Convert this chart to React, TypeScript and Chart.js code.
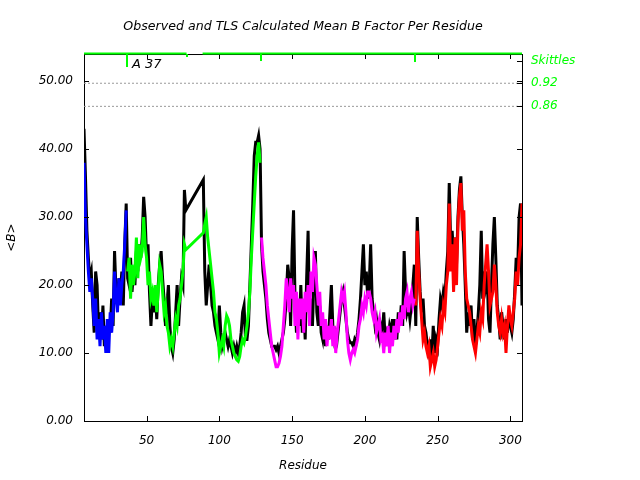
import React, { useEffect, useRef } from 'react';
import { Chart, registerables } from 'chart.js';

Chart.register(...registerables);

const TITLE = 'Observed and TLS Calculated Mean B Factor Per Residue';
const X_TITLE = 'Residue';
const Y_TITLE = '<B>';
const X_MIN = 7;
const X_MAX = 308;
const Y_MIN = 0;
const Y_MAX = 54;
const xTickValues = [50, 100, 150, 200, 250, 300];
const yTickValues = [0, 10, 20, 30, 40, 50];

// Observed mean B per residue (black) — residues 7..77 and 89..308
const observedStartA = 7;
const observedA = [
  43, 36, 28, 24, 21, 22, 17, 13, 22, 20,
  13, 16, 12, 17, 11, 14, 12, 15, 13, 18,
  14, 25, 19, 17, 21, 19, 22, 17, 26, 32,
  21, 20, 24, 19, 22, 20, 25, 22, 26, 24,
  27, 33, 30, 24, 26, 19, 14, 18, 16, 19,
  15, 20, 23, 25, 21, 18, 14, 17, 20, 14,
  11, 10, 12, 16, 20, 14, 18, 21, 20, 34,
  31,
];
const observedStartB = 89;
const observedB = [
  35.5, 22, 17, 20, 23, 20, 17, 16, 14, 13,
  12, 17, 13, 11, 12, 13, 12, 11, 12, 11,
  10, 11, 10, 11, 10, 11, 13, 16, 17, 12,
  12, 14, 20, 26, 32, 39, 41, 41, 42, 40,
  26, 22, 20, 18, 15, 13, 12, 11, 11, 11,
  10.5, 11, 10, 11, 12, 13, 15, 18, 23, 21,
  14, 25, 31, 18, 13, 16, 14, 20, 13, 17,
  12, 21, 28, 15, 18, 14, 21, 25, 16, 14,
  17, 13, 12, 15, 11, 14, 12, 16, 20, 14,
  12, 13, 12, 14, 16, 18, 19, 17, 15, 13,
  12, 11.5, 11.5, 11, 12, 11.5, 13, 15, 18, 22,
  26, 20, 22, 18, 20, 26, 18, 16, 14, 15,
  13, 12, 14, 13, 16, 12, 13, 12, 14, 13,
  15, 12, 15, 12, 16, 14, 17, 14, 25, 19,
  16, 17, 15, 17, 20, 23, 14, 30, 24, 19,
  16, 18, 14, 13, 11, 10, 12, 9, 14, 10,
  12, 11, 15, 18, 17, 19, 18, 22, 25, 35,
  26, 28, 24, 27, 23, 30, 34, 36, 30, 26,
  20, 13, 16, 14, 17, 12, 15, 11, 13, 16,
  20, 28, 18, 22, 20, 22, 15, 13, 20, 26,
  30, 24, 17, 15, 12, 16, 14, 12, 15, 13,
  16, 14, 13, 15, 19, 24, 22, 30, 32, 17,
];

// TLS calculated mean B per residue, one array per TLS group
const blueStart = 7;
const blueValues = [
  38, 30, 26, 22, 19, 21, 18, 14, 18, 12,
  15, 11, 16, 12, 14, 10, 15, 10, 16, 13,
  16, 22, 18, 16, 21, 17, 20, 22, 26, 31,
];
const greenStartA = 37;
const greenValuesA = [
  22, 24, 18, 23, 20, 22, 27, 21, 26, 24,
  25, 30, 26, 24, 20, 22, 18, 19, 17, 20,
  16, 19, 23, 22, 19, 16, 17, 14, 13, 11,
  12, 11, 13, 15, 14, 17, 18, 20, 22, 26,
  25.2,
];
const greenStartB = 89;
const greenValuesB = [
  27.7, 29, 30, 27, 25, 23, 21, 19, 16, 15,
  13, 10, 11, 12, 11, 14, 15.5, 15, 14, 12,
  11, 10, 9.5, 9, 8.8, 9.5, 11, 12, 11.5, 12.5,
  14, 16, 19, 24, 28, 32, 36, 39, 41, 38,
];
const magentaStart = 129;
const magentaValues = [
  27, 24, 22, 20, 17, 15, 13, 11, 10, 9,
  8, 8, 8.5, 9.5, 11, 14, 17, 21, 19, 16,
  21, 18, 20, 14, 19, 12, 18, 15, 18, 13,
  19, 16, 20, 14, 22, 19, 24, 23, 20, 17,
  19, 14, 16, 12, 15, 11, 14, 12, 15, 11,
  14, 10, 13, 15, 17, 19, 18, 19, 16, 12,
  10, 9, 10, 10.5, 10, 11, 12, 14, 15, 17,
  16, 18, 17, 19, 19, 18, 16, 15, 16, 13,
  14, 15, 12, 12.5, 10, 13, 11, 14, 10, 13,
  11, 14, 12, 15, 13, 16, 14, 17, 15, 18,
  19, 16, 18, 19, 17, 18,
];
const redStart = 235;
const redValues = [
  17, 28, 22, 18, 15, 12, 13, 11, 10, 11,
  8, 9, 10, 8, 9, 11, 13, 15, 14, 17,
  16, 20, 22, 32, 22, 26, 19, 27, 20, 29,
  33, 35, 28, 31, 22, 18, 17, 16, 14, 12,
  11, 10, 12, 14, 13, 16, 15, 20, 23, 26,
  22, 17, 18, 19, 23, 20, 16, 14, 13, 15,
  13, 14, 10, 14, 17, 15, 14, 16, 18, 22,
  20, 24, 26, 32,
];

// Skittles reference levels (in B units on the plot) and their labels
const skittlesLabels = ['Skittles', '0.92', '0.86'];
const skittlesLevels = [53, 49.7, 46.3];
// TLS group boundaries (between residues), chain break, and label
const groupBoundaries = [36.5, 128.5, 234.5];
const chainBreaks = [77.5];
const boundaryLabel = 'A 37';
const residueCoverage = [
  [7, 77],
  [89, 308],
];

const BLACK = '#000000';
const BLUE = '#0000ff';
const GREEN = '#00ff00';
const MAGENTA = '#ff00ff';
const RED = '#ff0000';
const FONT = "'DejaVu Sans', sans-serif";

const toPoints = (start: number, values: number[]) =>
  values.map((v, i) => ({ x: start + i, y: v }));

const framePlugin = {
  id: 'framePlugin',
  afterDraw(chart: any) {
    const { ctx, chartArea: a, scales } = chart;
    const xs = scales.x;
    const ys = scales.y;
    const y2 = scales.y2;
    ctx.save();
    ctx.strokeStyle = BLACK;
    ctx.lineWidth = 1;
    ctx.beginPath();
    ctx.moveTo(a.left, a.top + 0.5);
    ctx.lineTo(a.right, a.top + 0.5);
    ctx.stroke();

    ctx.beginPath();
    for (const t of xs.ticks) {
      const px = Math.round(xs.getPixelForValue(t.value)) + 0.5;
      ctx.moveTo(px, a.bottom);
      ctx.lineTo(px, a.bottom - 5);
      ctx.moveTo(px, a.top);
      ctx.lineTo(px, a.top + 5);
    }
    for (const t of ys.ticks) {
      const py = Math.round(ys.getPixelForValue(t.value)) + 0.5;
      ctx.moveTo(a.left, py);
      ctx.lineTo(a.left + 5, py);
    }
    for (const t of y2.ticks) {
      const py = Math.round(y2.getPixelForValue(t.value)) + 0.5;
      ctx.moveTo(a.right, py);
      ctx.lineTo(a.right - 5, py);
    }
    ctx.stroke();

    // green residue coverage along the top
    ctx.strokeStyle = GREEN;
    ctx.lineWidth = 2;
    for (const [s, e] of residueCoverage) {
      const x0 = Math.max(a.left, xs.getPixelForValue(s - 0.5));
      const x1 = Math.min(a.right, xs.getPixelForValue(e + 0.5));
      ctx.beginPath();
      ctx.moveTo(x0, a.top - 0.5);
      ctx.lineTo(x1, a.top - 0.5);
      ctx.stroke();
    }
    ctx.fillStyle = GREEN;
    const lens = [13, 7, 8];
    groupBoundaries.forEach((r, i) => {
      const px = Math.round(xs.getPixelForValue(r));
      ctx.fillRect(px - 1, a.top, 2, lens[i] ?? 8);
    });
    chainBreaks.forEach((r) => {
      const px = Math.round(xs.getPixelForValue(r));
      ctx.fillRect(px - 1, a.top, 2, 3);
    });

    ctx.fillStyle = BLACK;
    ctx.font = `italic 13px ${FONT}`;
    ctx.textBaseline = 'middle';
    ctx.textAlign = 'left';
    ctx.fillText(boundaryLabel, xs.getPixelForValue(groupBoundaries[0]) + 5, a.top + 11);
    ctx.restore();
  },
};

export default function App() {
  const canvasRef = useRef<HTMLCanvasElement | null>(null);

  useEffect(() => {
    const canvas = canvasRef.current;
    if (!canvas) return;
    const lineDs = (data: any[], color: string, order: number) => ({
      data,
      borderColor: color,
      backgroundColor: color,
      borderWidth: 3,
      pointRadius: 0,
      tension: 0,
      fill: false,
      order,
      borderCapStyle: 'butt',
      borderJoinStyle: 'miter',
    });
    const dashed = skittlesLevels.slice(1).map((lvl) => ({
      data: [
        { x: X_MIN, y: lvl },
        { x: X_MAX, y: lvl },
      ],
      borderColor: '#999999',
      borderWidth: 1,
      borderDash: [2, 2],
      pointRadius: 0,
      fill: false,
      order: 5,
    }));
    const obs = [...toPoints(observedStartA, observedA), ...toPoints(observedStartB, observedB)];
    const green = [...toPoints(greenStartA, greenValuesA), ...toPoints(greenStartB, greenValuesB)];

    const italic = (size: number) => ({ family: FONT, size, style: 'italic' as const, weight: 'normal' as const });

    const chart = new Chart(canvas, {
      type: 'line',
      data: {
        datasets: [
          ...dashed,
          lineDs(obs, BLACK, 3),
          lineDs(toPoints(blueStart, blueValues), BLUE, 1),
          lineDs(green, GREEN, 1),
          lineDs(toPoints(magentaStart, magentaValues), MAGENTA, 1),
          lineDs(toPoints(redStart, redValues), RED, 1),
        ] as any,
      },
      options: {
        responsive: false,
        animation: false,
        devicePixelRatio: 1,
        layout: { padding: 0 },
        plugins: {
          legend: { display: false },
          tooltip: { enabled: false },
          title: {
            display: true,
            text: TITLE,
            color: BLACK,
            font: italic(12.6),
            padding: { top: 19, bottom: 19.9 },
            fullSize: false,
          },
        },
        scales: {
          x: {
            type: 'linear',
            position: 'bottom',
            min: X_MIN,
            max: X_MAX,
            afterBuildTicks: (s: any) => {
              s.ticks = xTickValues.map((v) => ({ value: v }));
            },
            afterFit: (s: any) => {
              s.height = 59;
            },
            grid: { display: false, drawTicks: false },
            border: { display: true, color: BLACK, width: 1 },
            ticks: {
              color: BLACK,
              font: italic(12),
              padding: 13,
              maxRotation: 0,
              autoSkip: false,
              callback: (v: any) => String(v),
            },
            title: {
              display: true,
              text: X_TITLE,
              color: BLACK,
              font: italic(12),
              padding: { top: 0, bottom: 6.5 },
            },
          },
          y: {
            type: 'linear',
            position: 'left',
            min: Y_MIN,
            max: Y_MAX,
            afterBuildTicks: (s: any) => {
              s.ticks = yTickValues.map((v) => ({ value: v }));
            },
            afterFit: (s: any) => {
              s.width = 84;
            },
            grid: { display: false, drawTicks: false },
            border: { display: true, color: BLACK, width: 1 },
            ticks: {
              color: BLACK,
              font: italic(12),
              padding: 11,
              autoSkip: false,
              callback: (v: any) => Number(v).toFixed(2),
            },
            title: {
              display: true,
              text: Y_TITLE,
              color: BLACK,
              font: italic(12),
              padding: { top: 5, bottom: 0 },
            },
          },
          y2: {
            type: 'linear',
            position: 'right',
            min: Y_MIN,
            max: Y_MAX,
            afterBuildTicks: (s: any) => {
              s.ticks = [...yTickValues, ...skittlesLevels].map((v) => ({ value: v }));
            },
            afterFit: (s: any) => {
              s.width = 118;
            },
            grid: { display: false, drawTicks: false },
            border: { display: true, color: BLACK, width: 1 },
            ticks: {
              color: GREEN,
              font: italic(12),
              padding: 9,
              autoSkip: false,
              callback: (v: any) => {
                const i = skittlesLevels.indexOf(Number(v));
                return i >= 0 ? skittlesLabels[i] : '';
              },
            },
          },
        },
      } as any,
      plugins: [framePlugin],
    });
    return () => chart.destroy();
  }, []);

  return (
    <div style={{ position: 'absolute', left: 0, top: 0, width: 640, height: 480, background: '#fff' }}>
      <canvas ref={canvasRef} width={640} height={480} style={{ display: 'block' }} />
    </div>
  );
}
